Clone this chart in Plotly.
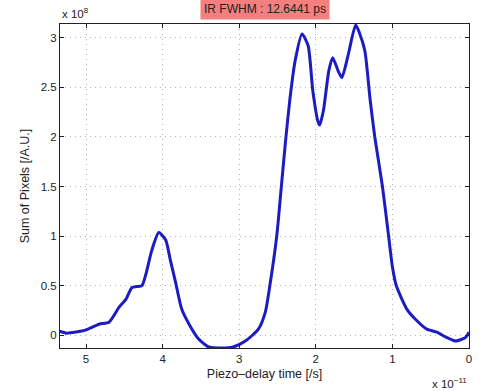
import plotly.graph_objects as go

# Piezo delay (units of 1e-11 s) and summed pixel intensity (units of 1e8)
delay = [5.35, 5.25, 5.01, 4.83, 4.70, 4.57, 4.48, 4.40, 4.34, 4.27, 4.22, 4.14,
         4.05, 3.96, 3.90, 3.83, 3.75, 3.64, 3.53, 3.40, 3.25, 3.08, 2.92, 2.75,
         2.66, 2.60, 2.51, 2.45, 2.39, 2.34, 2.27, 2.18, 2.10, 2.04, 1.97, 1.95,
         1.90, 1.83, 1.78, 1.71, 1.66, 1.58, 1.48, 1.43, 1.36, 1.29, 1.23, 1.13,
         1.05, 1.00, 0.95, 0.81, 0.70, 0.55, 0.42, 0.30, 0.17, 0.04, 0.00]
pixel_sum = [0.04, 0.02, 0.05, 0.11, 0.13, 0.28, 0.36, 0.48, 0.49, 0.50, 0.61, 0.86,
             1.035, 0.96, 0.76, 0.53, 0.26, 0.09, -0.04, -0.12, -0.13, -0.12, -0.06, 0.06,
             0.23, 0.50, 1.00, 1.50, 2.00, 2.37, 2.77, 3.04, 2.92, 2.47, 2.15, 2.12,
             2.27, 2.67, 2.80, 2.67, 2.60, 2.82, 3.13, 3.05, 2.87, 2.37, 2.00, 1.50,
             1.00, 0.69, 0.50, 0.26, 0.16, 0.06, 0.03, -0.02, -0.06, -0.02, 0.03]

x_ticks = [5, 4, 3, 2, 1, 0]
y_ticks = [0, 0.5, 1, 1.5, 2, 2.5, 3]

family = "Liberation Sans, Arial, sans-serif"
font = dict(family=family, size=11.5, color="#222222")
title_font = dict(family=family, size=12.5, color="#222222")

fig = go.Figure(go.Scatter(
    x=delay, y=pixel_sum, mode="lines",
    line=dict(color="#1c1cc0", width=3, shape="spline", smoothing=0.6),
    showlegend=False,
))

axis_common = dict(
    showline=True, linecolor="#222222", linewidth=1, mirror="ticks",
    ticks="inside", ticklen=4, tickcolor="#222222",
    showgrid=True, gridcolor="#b4b4b4", griddash="1px,4px", gridwidth=1,
    zeroline=False, tickfont=font,
)

fig.update_xaxes(range=[5.34, 0], tickvals=x_ticks, ticktext=[str(v) for v in x_ticks],
                 title=dict(text="Piezo\u2013delay time [/s]", font=title_font, standoff=5),
                 **axis_common)
fig.update_yaxes(range=[-0.13, 3.14], tickvals=y_ticks, ticktext=["0", "0.5", "1", "1.5", "2", "2.5", "3"],
                 title=dict(text="Sum of Pixels [/A.U.]", font=title_font, standoff=8),
                 **axis_common)

fig.add_annotation(text="IR FWHM : 12.6441 ps", xref="paper", yref="paper", x=0.5, y=1,
                   xanchor="center", yanchor="bottom", yshift=4, showarrow=False,
                   bgcolor="#f37f7f", borderpad=3, font=dict(family=family, size=12, color="#222222"))
fig.add_annotation(text="x 10<sup>8</sup>", xref="paper", yref="paper", x=0, y=1,
                   xanchor="left", yanchor="bottom", yshift=2, showarrow=False, font=font)
fig.add_annotation(text="x 10<sup>\u221211</sup>", xref="paper", yref="paper", x=1, y=0,
                   xanchor="right", yanchor="top", yshift=-26, showarrow=False, font=font)

fig.update_layout(
    width=484, height=391,
    margin=dict(l=60, r=12, t=24, b=42),
    paper_bgcolor="white", plot_bgcolor="white",
    font=font,
)

fig.write_html("out.html")
